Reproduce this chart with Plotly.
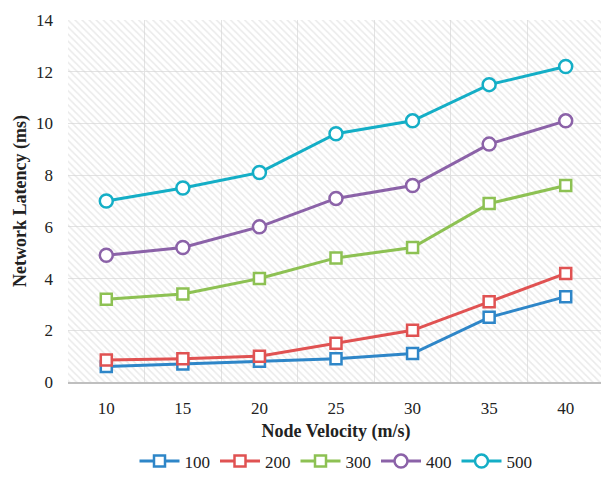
import plotly.graph_objects as go

velocity = ["10", "15", "20", "25", "30", "35", "40"]
series_names = ["100", "200", "300", "400", "500"]
lat_100 = [0.6, 0.7, 0.8, 0.9, 1.1, 2.5, 3.3]
lat_200 = [0.85, 0.9, 1.0, 1.5, 2.0, 3.1, 4.2]
lat_300 = [3.2, 3.4, 4.0, 4.8, 5.2, 6.9, 7.6]
lat_400 = [4.9, 5.2, 6.0, 7.1, 7.6, 9.2, 10.1]
lat_500 = [7.0, 7.5, 8.1, 9.6, 10.1, 11.5, 12.2]
y_ticks = [0, 2, 4, 6, 8, 10, 12, 14]

values = [lat_100, lat_200, lat_300, lat_400, lat_500]
colors = ["#2E86C8", "#E05252", "#8DC153", "#8B62A8", "#14AEC6"]
symbols = ["square", "square", "square", "circle", "circle"]

fig = go.Figure()

# hatched plot background (decoration) on base axes x/y; data on overlay axes
fig.add_trace(go.Scatter(
    x=[0, 1, 1, 0, 0], y=[0, 0, 1, 1, 0], xaxis="x", yaxis="y",
    mode="lines", line=dict(width=0), fill="toself", fillcolor="rgba(0,0,0,0)",
    fillpattern=dict(shape="\\", fgcolor="#D6D6D6", bgcolor="rgba(0,0,0,0)", size=5, solidity=0.3),
    hoverinfo="skip", showlegend=False,
))

for name, vals, col, sym in zip(series_names, values, colors, symbols):
    fig.add_trace(go.Scatter(
        x=velocity, y=vals, name=name, mode="lines+markers",
        xaxis="x2", yaxis="y2",
        line=dict(color=col, width=3),
        marker=dict(symbol=sym, size=11 if sym == "square" else 13,
                    color="white", line=dict(color=col, width=2.5)),
    ))

font_family = "Liberation Serif"
fig.update_layout(
    width=609, height=489,
    margin=dict(l=60, r=13, t=12, b=115, autoexpand=False),
    paper_bgcolor="white", plot_bgcolor="white",
    font=dict(family=font_family, size=17, color="#222222"),
    xaxis=dict(range=[0, 1], visible=False, fixedrange=True, automargin=False),
    yaxis=dict(range=[0, 1], visible=False, fixedrange=True, automargin=False),
    xaxis2=dict(
        overlaying="x", side="bottom", anchor="y2", automargin=False,
        type="category", tickson="boundaries", showgrid=True, gridcolor="#E3E3E3",
        gridwidth=1, showline=True, linecolor="#BFBFBF", linewidth=2,
        ticks="", ticklabelstandoff=10,
        range=[-0.5, 6.5], tickfont=dict(family=font_family, size=17),
        title=dict(text="<b>Node Velocity (m/s)</b>", font=dict(family=font_family, size=18), standoff=7),
        zeroline=False,
    ),
    yaxis2=dict(
        overlaying="y", side="left", anchor="x2", automargin=False,
        range=[0, 14], tickvals=y_ticks, showgrid=True, gridcolor="#E3E3E3",
        gridwidth=1, showline=False, zeroline=False,
        ticks="", ticklabelstandoff=14,
        tickfont=dict(family=font_family, size=17),
        title=dict(text="<b>Network Latency (ms)</b>", font=dict(family=font_family, size=18), standoff=4),
    ),
    legend=dict(orientation="h", x=0.5, xanchor="center", y=-0.17, yanchor="top",
                font=dict(family=font_family, size=17), itemwidth=40, tracegroupgap=0),
)

fig.write_html("out.html")
